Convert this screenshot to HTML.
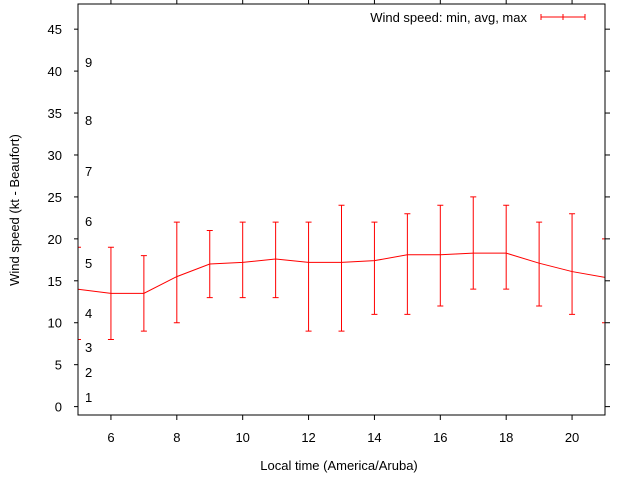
<!DOCTYPE html>
<html><head><meta charset="utf-8"><style>
body{margin:0;background:#fff}
svg text{font-family:"Liberation Sans",sans-serif;font-size:13px;fill:#000}
</style></head><body>
<svg id="c" width="640" height="480" xmlns="http://www.w3.org/2000/svg"></svg>
<script>
const hours=[5,6,7,8,9,10,11,12,13,14,15,16,17,18,19,20,21];
const avgSpeed=[14,13.5,13.5,15.5,17,17.2,17.6,17.2,17.2,17.4,18.1,18.1,18.3,18.3,17.1,16.1,15.4];
const minSpeed=[8,8,9,10,13,13,13,9,9,11,11,12,14,14,12,11,10];
const maxSpeed=[19,19,18,22,21,22,22,22,24,22,23,24,25,24,22,23,20];
const yTicks=[0,5,10,15,20,25,30,35,40,45];
const xTicks=[6,8,10,12,14,16,18,20];
const beaufort=[[1,397],[2,372],[3,347],[4,313],[5,263],[6,221],[7,171],[8,120],[9,62]];
const L=78,R=605,T=4,B=415,x0=5,x1=21,y0=-1,y1=48;
const X=v=>L+(v-x0)/(x1-x0)*(R-L);
const Y=v=>B-(v-y0)/(y1-y0)*(B-T);
const svg=document.getElementById('c');const NS='http://www.w3.org/2000/svg';
function mk(t,a,p){const e=document.createElementNS(NS,t);for(const k in a)e.setAttribute(k,a[k]);(p||svg).appendChild(e);return e;}
const clip=mk('clipPath',{id:'pc'});mk('rect',{x:L,y:T,width:R-L,height:B-T},clip);
yTicks.forEach(v=>{
 const y=Y(v);
 const t=mk('line',{x1:L-4,y1:y,x2:L,y2:y,stroke:'#000'});
 
 
 const t2=mk('line',{x1:R,y1:y,x2:R+5,y2:y,stroke:'#000'});
 
 
 const l=mk('text',{x:62,y:y+5,'text-anchor':'end'});l.textContent=v;
 
 
});
xTicks.forEach(v=>{
 const x=X(v);
 const t=mk('line',{x1:x,y1:B,x2:x,y2:B+5,stroke:'#000'});
 
 
 const t2=mk('line',{x1:x,y1:0,x2:x,y2:T,stroke:'#000'});
 
 
 const l=mk('text',{x:x,y:442,'text-anchor':'middle'});l.textContent=v;
 
 
});
beaufort.forEach(b=>{
 const l=mk('text',{x:85,y:b[1]+5});l.textContent=b[0];
 
 
});
const g=mk('g',{'clip-path':'url(#pc)'});


hours.forEach((h,i)=>{
 const x=X(h);
 const e=mk('path',{d:`M${x},${Y(minSpeed[i])}V${Y(maxSpeed[i])}M${x-3},${Y(minSpeed[i])}h6M${x-3},${Y(maxSpeed[i])}h6`,stroke:'#f00',fill:'none'},g);
 
 
});
const ln=mk('polyline',{points:hours.map((h,i)=>X(h)+','+Y(avgSpeed[i])).join(' '),stroke:'#f00',fill:'none'},g);


const fr=mk('rect',{x:L,y:T,width:R-L,height:B-T,fill:'none',stroke:'#000'});


const lt=mk('text',{x:527,y:22,'text-anchor':'end'});lt.textContent='Wind speed: min, avg, max';


const ls=mk('path',{d:'M541,17H585M541,14v6M563,14v6M585,14v6',stroke:'#f00',fill:'none'});


const xt=mk('text',{x:339,y:470,'text-anchor':'middle'});xt.textContent='Local time (America/Aruba)';


const yt=mk('text',{x:0,y:0,'text-anchor':'middle',transform:'translate(19,210) rotate(-90)'});yt.textContent='Wind speed (kt - Beaufort)';


</script>
</body></html>
